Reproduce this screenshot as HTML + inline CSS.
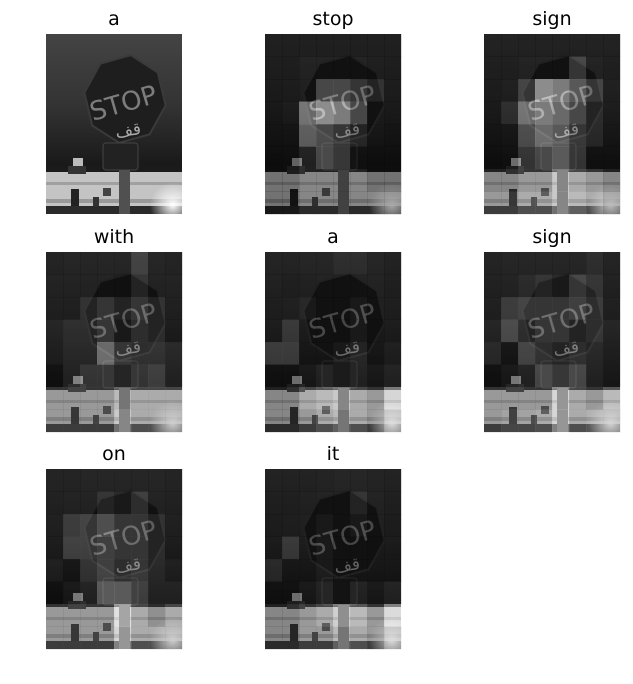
<!DOCTYPE html>
<html><head><meta charset="utf-8">
<style>
html,body{margin:0;padding:0;background:#fff;}
svg{display:block;}
text{font-family:"DejaVu Sans","Liberation Sans",sans-serif;}
</style></head>
<body>
<svg id="fig" width="633" height="684" viewBox="0 0 633 684" xmlns="http://www.w3.org/2000/svg">
<defs>
<linearGradient id="sky" x1="0" y1="0" x2="0" y2="1">
<stop offset="0" stop-color="#444"/><stop offset="0.4" stop-color="#333"/><stop offset="0.72" stop-color="#1a1a1a"/><stop offset="1" stop-color="#222"/>
</linearGradient>
<radialGradient id="glow" cx="0.8" cy="0.8" r="0.5">
<stop offset="0" stop-color="#fff" stop-opacity="1"/><stop offset="1" stop-color="#fff" stop-opacity="0"/>
</radialGradient>
</defs>
</svg>
<script>
const titles = ["a","stop","sign","with","a","sign","on","it"];
const attnStop = [
[.15,.15,.15,.15,.15,.15,.15,.15],[.15,.15,.3,.3,.3,.3,.2,.15],[.15,.2,.3,.6,.6,.5,.4,.2],[.15,.3,.8,1,.9,.6,.3,.2],
[.15,.2,.7,.6,.5,.4,.3,.2],[.15,.2,.4,.6,.5,.3,.2,.2],[.3,.3,.4,.4,.4,.4,.3,.3],[.3,.3,.4,.4,.4,.4,.4,.4]];
const attnSign = [
[.2,.2,.2,.2,.2,.2,.2,.2],[.2,.2,.3,.3,.3,.5,.3,.2],[.2,.3,.5,1,.9,.7,.5,.3],[.2,.4,.8,.9,.8,.6,.4,.3],
[.2,.3,.6,.8,.7,.5,.4,.3],[.2,.3,.5,.6,.7,.5,.3,.3],[.4,.4,.5,.5,.8,.6,.5,.4],[.5,.5,.6,.6,.8,.7,.6,.5]];
const attnWith = [
[.25,.3,.3,.3,.3,.45,.3,.25],[.3,.3,.3,.3,.25,.4,.3,.3],[.3,.3,.4,.5,.4,.5,.4,.3],[.35,.4,.4,.5,.35,.45,.4,.3],
[.35,.4,.4,.8,.5,.45,.45,.4],[.3,.4,.5,.5,.4,.5,.55,.4],[.5,.5,.5,.5,.7,.6,.6,.6],[.5,.5,.5,.5,.8,.6,.6,.6]];
const attnA2 = [
[.25,.25,.3,.3,.35,.35,.3,.2],[.25,.2,.25,.3,.3,.3,.3,.2],[.25,.3,.35,.3,.3,.35,.3,.25],[.3,.45,.3,.3,.25,.35,.25,.3],
[.5,.5,.3,.3,.35,.4,.3,.35],[.3,.3,.35,.4,.35,.4,.35,.4],[.4,.4,.6,.7,.8,.6,.5,.9],[.4,.4,.5,.6,.7,.6,.5,.7]];
const attnSign2 = [
[.25,.3,.3,.3,.3,.3,.35,.25],[.25,.3,.35,.4,.35,.5,.4,.25],[.3,.45,.5,.5,.5,.55,.45,.3],[.35,.55,.4,.5,.5,.4,.45,.35],
[.4,.3,.55,.45,.4,.45,.4,.35],[.3,.35,.4,.6,.5,.6,.4,.35],[.5,.5,.5,.5,.9,.6,.5,.7],[.5,.55,.55,.6,.9,.6,.65,.65]];
const attnOn = [
[.25,.25,.3,.3,.3,.3,.3,.25],[.25,.3,.3,.4,.35,.45,.3,.25],[.3,.45,.5,.65,.5,.5,.4,.3],[.3,.5,.5,.55,.5,.5,.4,.3],
[.35,.3,.45,.55,.45,.5,.4,.35],[.25,.35,.4,.7,.7,.55,.4,.4],[.5,.5,.5,.5,1,.6,.45,.6],[.5,.5,.5,.5,.9,.6,.6,.6]];
const attnIt = [
[.2,.2,.2,.25,.3,.3,.25,.2],[.2,.2,.25,.3,.3,.4,.3,.2],[.2,.25,.3,.35,.3,.35,.3,.2],[.25,.45,.3,.35,.3,.3,.25,.25],
[.4,.3,.3,.35,.3,.3,.3,.3],[.3,.3,.35,.4,.3,.4,.35,.4],[.4,.4,.5,.6,.85,.7,.5,.95],[.4,.4,.5,.5,.7,.6,.5,.7]];
const maps = [null, attnStop, attnSign, attnWith, attnA2, attnSign2, attnOn, attnIt];

const NS = "http://www.w3.org/2000/svg";
const svg = document.getElementById('fig');
const colX = [46,265,484], rowY = [34,252,469], PW = 136, PH = 180;
function mk(tag, attrs, parent){const e=document.createElementNS(NS,tag);for(const k in attrs)e.setAttribute(k,attrs[k]);parent.appendChild(e);return e;}

function scene(g){
  mk('rect',{x:0,y:0,width:PW,height:PH,fill:'url(#sky)'},g);
  const cx=79,cy=65,r=41,pts=[];
  for(let i=0;i<8;i++){const a=(Math.PI/8)+i*Math.PI/4-0.25;pts.push((cx+r*Math.cos(a)).toFixed(1)+','+(cy+r*1.08*Math.sin(a)).toFixed(1));}
  mk('polygon',{points:pts.join(' '),fill:'#1e1e1e',stroke:'#3a3a3a','stroke-width':2},g);
  const t=mk('text',{x:77,y:78,'font-size':26,fill:'#7d7d7d','text-anchor':'middle',transform:'rotate(-16 77 68)','font-family':'"Liberation Sans",sans-serif'},g);
  t.textContent='STOP';
  const t2=mk('text',{x:82,y:102,'font-size':17,fill:'#aaa','text-anchor':'middle',transform:'rotate(-10 82 96)','font-family':'"DejaVu Sans",sans-serif'},g);
  t2.textContent='قف';
  mk('rect',{x:57,y:109,width:35,height:27,rx:3,fill:'#222',stroke:'#444','stroke-width':1},g);
  mk('rect',{x:0,y:138,width:136,height:34,fill:'#c4c4c4'},g);
  mk('rect',{x:0,y:148,width:136,height:3,fill:'#a0a0a0'},g);
  mk('rect',{x:0,y:165,width:136,height:4,fill:'#999'},g);
  mk('rect',{x:27,y:124,width:10,height:10,fill:'#bbb'},g);
  mk('rect',{x:22,y:132,width:18,height:8,fill:'#333'},g);
  mk('rect',{x:25,y:155,width:8,height:17,fill:'#222'},g);
  mk('rect',{x:47,y:163,width:6,height:9,fill:'#333'},g);
  mk('rect',{x:57,y:154,width:8,height:8,fill:'#444'},g);
  mk('rect',{x:0,y:172,width:136,height:8,fill:'#2a2a2a'},g);
  mk('rect',{x:90,y:135,width:46,height:45,fill:'url(#glow)'},g);
  mk('rect',{x:73,y:136,width:11,height:44,fill:'#505050'},g);
}

for(let i=0;i<8;i++){
  const cx=colX[i%3], cy=rowY[Math.floor(i/3)];
  const panel=mk('g',{transform:`translate(${cx},${cy})`},svg);
  
  
  const img=mk('g',{},panel);
  
  
  scene(img);
  const m=maps[i];
  if(m){
    const cw=PW/8, ch=PH/8;
    for(let r=0;r<8;r++)for(let c=0;c<8;c++){
      const a=m[r][c];
      const cell=mk('rect',{x:c*cw,y:r*ch,width:cw+0.3,height:ch+0.3,fill:'#000','fill-opacity':(0.6*(1-a)).toFixed(2)},panel);
      
      
      if(a>0.3){
        const hi=mk('rect',{x:c*cw,y:r*ch,width:cw+0.3,height:ch+0.3,fill:'#fff','fill-opacity':((a-0.3)*0.7).toFixed(2)},panel);
        
        
      }
    }
  }
  const tt=mk('text',{x:cx+PW/2,y:cy-9,'font-size':19,'text-anchor':'middle',fill:'#000'},svg);
  
  
  tt.textContent=titles[i];
}
</script>
</body></html>
